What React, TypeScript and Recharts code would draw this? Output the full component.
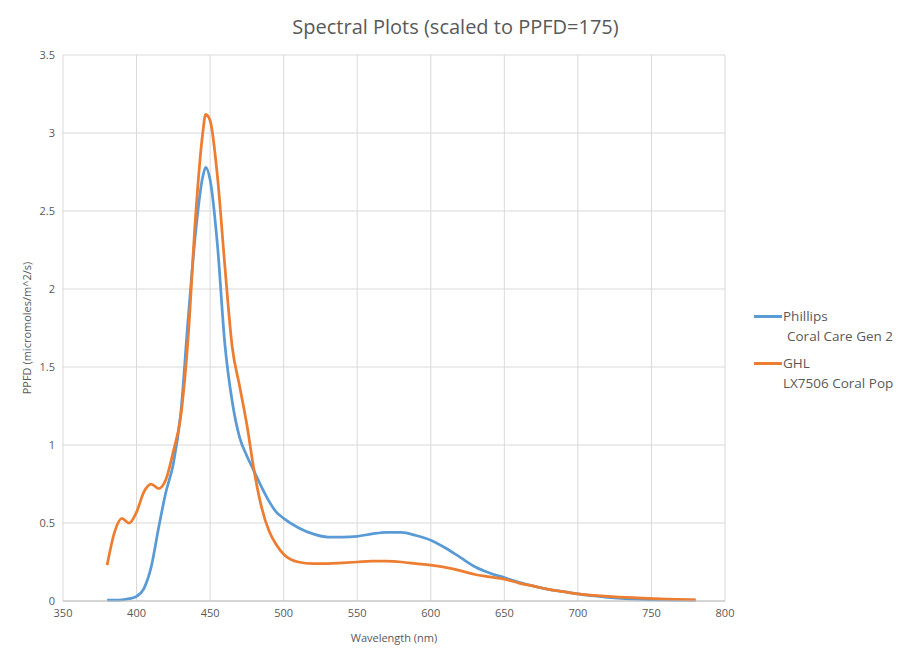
import React from "react";
import { LineChart, Line, XAxis, YAxis, CartesianGrid, Label } from "recharts";

const wavelengths = [380,385,390,395,400,405,410,415,420,425,430,435,440,445,447,450,455,460,465,470,475,480,485,490,495,500,510,520,530,540,550,560,570,580,590,600,610,620,630,640,650,660,670,680,690,700,720,740,760,780];
const phillips = [0.005,0.005,0.007,0.015,0.03,0.08,0.22,0.47,0.70,0.88,1.20,1.80,2.35,2.72,2.78,2.70,2.28,1.65,1.28,1.05,0.93,0.83,0.73,0.64,0.57,0.53,0.47,0.43,0.41,0.41,0.415,0.43,0.44,0.44,0.42,0.39,0.34,0.28,0.22,0.18,0.15,0.12,0.095,0.075,0.06,0.045,0.024,0.012,0.007,0.005];
const ghl = [0.23,0.44,0.53,0.50,0.57,0.70,0.75,0.72,0.78,0.96,1.18,1.68,2.45,3.00,3.12,3.08,2.72,2.15,1.63,1.38,1.13,0.83,0.60,0.45,0.36,0.30,0.25,0.24,0.24,0.245,0.25,0.255,0.255,0.25,0.24,0.23,0.215,0.195,0.17,0.155,0.14,0.115,0.095,0.075,0.06,0.045,0.03,0.02,0.012,0.007];
const xTicks = [350,400,450,500,550,600,650,700,750,800];
const yTicks = [0,0.5,1,1.5,2,2.5,3,3.5];

const data = wavelengths.map((w, i) => ({ w, phillips: phillips[i], ghl: ghl[i] }));

const FONT = "'Segoe UI', 'Open Sans', 'Noto Sans', sans-serif";
const TEXT = "#595959";

const LegendBox = () => (
  <div style={{ position: "absolute", left: 754, top: 306, width: 160, fontFamily: FONT, fontSize: 13.5, color: TEXT, lineHeight: "20px" }}>
    <div style={{ display: "flex", alignItems: "center" }}>
      <span style={{ display: "inline-block", width: 28, height: 3, background: "#5B9BD5", marginRight: 1 }} />
      <span>Phillips</span>
    </div>
    <div style={{ paddingLeft: 33 }}>Coral Care Gen 2</div>
    <div style={{ display: "flex", alignItems: "center", marginTop: 7 }}>
      <span style={{ display: "inline-block", width: 28, height: 3, background: "#ED7D31", marginRight: 1 }} />
      <span>GHL</span>
    </div>
    <div style={{ paddingLeft: 29 }}>LX7506 Coral Pop</div>
  </div>
);

export default function App() {
  return (
    <div style={{ position: "absolute", left: 0, top: 0, width: 911, height: 661, background: "#fff", fontFamily: FONT }}>
      <div style={{ position: "absolute", left: 0, top: 13, width: 911, textAlign: "center", fontSize: 20, color: TEXT }}>
        Spectral Plots (scaled to PPFD=175)
      </div>
      <LineChart width={911} height={661} data={data} margin={{ top: 55, right: 186, bottom: 40, left: 23 }}>
        <CartesianGrid stroke="#d9d9d9" strokeWidth={1} />
        <XAxis
          dataKey="w"
          type="number"
          domain={[350, 800]}
          ticks={xTicks}
          interval={0}
          tick={{ fill: TEXT, fontSize: 11, fontFamily: FONT }}
          tickLine={false}
          axisLine={{ stroke: "#bfbfbf" }}
          height={20}
        >
          <Label value="Wavelength (nm)" position="insideBottom" offset={-21} style={{ fill: TEXT, fontSize: 11, fontFamily: FONT }} />
        </XAxis>
        <YAxis
          type="number"
          domain={[0, 3.5]}
          ticks={yTicks}
          interval={0}
          tick={{ fill: TEXT, fontSize: 11, fontFamily: FONT }}
          tickLine={false}
          axisLine={false}
          width={40}
        >
          <Label value="PPFD (micromoles/m^2/s)" angle={-90} position="insideLeft" offset={4} style={{ fill: TEXT, fontSize: 11, fontFamily: FONT, textAnchor: "middle" }} />
        </YAxis>
        <Line type="monotone" dataKey="phillips" stroke="#5B9BD5" strokeWidth={2.75} dot={false} isAnimationActive={false} />
        <Line type="monotone" dataKey="ghl" stroke="#ED7D31" strokeWidth={2.75} dot={false} isAnimationActive={false} />
      </LineChart>
      <LegendBox />
    </div>
  );
}
